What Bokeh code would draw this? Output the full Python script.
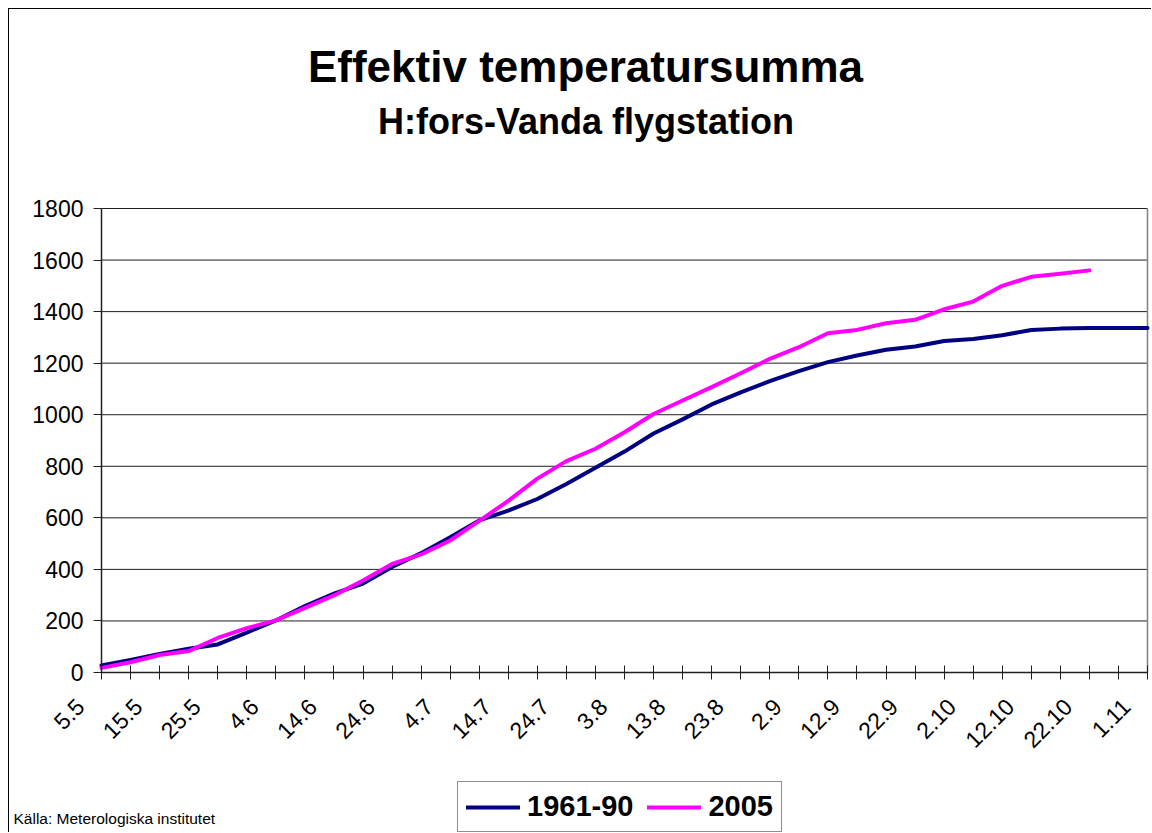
import math
from bokeh.plotting import figure
from bokeh.models import Range1d, FixedTicker, Legend, LegendItem, Label, LinearAxis
from bokeh.embed import file_html
from bokeh.resources import INLINE

# Category axis: every 5 days from 5.5 to 1.11
dates = ["5.5", "10.5", "15.5", "20.5", "25.5", "30.5",
         "4.6", "9.6", "14.6", "19.6", "24.6", "29.6",
         "4.7", "9.7", "14.7", "19.7", "24.7", "29.7",
         "3.8", "8.8", "13.8", "18.8", "23.8", "28.8",
         "2.9", "7.9", "12.9", "17.9", "22.9", "27.9",
         "2.10", "7.10", "12.10", "17.10", "22.10", "27.10", "1.11"]

# Effective temperature sum, long-term mean 1961-90
normal_1961_90 = [27, 49, 72, 92, 109, 155, 202, 258, 306, 345, 409, 463,
                  525, 590, 628, 673, 731, 794, 857, 927, 982, 1040, 1087,
                  1130, 1169, 1204, 1230, 1252, 1265, 1286, 1294, 1308,
                  1329, 1334, 1336, 1336, 1336]

# Effective temperature sum 2005 (ends 27.10)
year_2005 = [18, 40, 68, 83, 134, 172, 202, 251, 299, 357, 421, 458,
             512, 588, 666, 752, 820, 868, 932, 1003, 1055, 1107, 1161,
             1217, 1262, 1316, 1329, 1355, 1368, 1409, 1439, 1500,
             1535, 1547, 1560]

y_ticks = [0, 200, 400, 600, 800, 1000, 1200, 1400, 1600, 1800]

title_text = "Effektiv temperatursumma"
subtitle_text = "H:fors-Vanda flygstation"
source_text = "Källa: Meterologiska institutet"
series_names = ["1961-90", "2005"]

FONT = "Liberation Sans"

x_all = list(range(len(dates)))
x_2005 = x_all[:len(year_2005)]
n_last = x_all[-1]

# ---- geometry (canvas pixels) ----
W, H = 1143, 824
FL, FR = 92, 1138        # plot-area left/right (canvas x)
FT, FB = 199, 663        # plot-area top/bottom (canvas y)
kx = (FR - FL) / n_last
ky = (FB - FT) / (y_ticks[-1] - y_ticks[0])
x_start = 0 - FL / kx
x_end = n_last + (W - FR) / kx
y_end = y_ticks[-1] + FT / ky
y_start = y_ticks[0] - (H - FB) / ky

p = figure(width=W, height=H, output_backend="svg", toolbar_location=None,
           title=None, x_range=Range1d(x_start, x_end), y_range=Range1d(y_start, y_end),
           min_border=0)
p.styles = {"margin-left": "8px", "margin-top": "8px",
            "border-left": "1px solid #000000", "border-top": "1px solid #000000"}
p.background_fill_color = "white"
p.border_fill_color = "white"
p.outline_line_color = None
p.xgrid.visible = False
p.ygrid.visible = False

# horizontal gridlines across the plot area
p.segment(x0=[x_all[0]] * len(y_ticks), x1=[n_last] * len(y_ticks),
          y0=y_ticks, y1=y_ticks, line_color="#202020", line_width=1)
# right border of the plot area
p.segment(x0=[n_last], x1=[n_last], y0=[y_ticks[0]], y1=[y_ticks[-1]],
          line_color="#808080", line_width=1.5)

r1 = p.line(x_all, normal_1961_90, line_color="#000080", line_width=4,
            line_join="round", line_cap="round")
r2 = p.line(x_2005, year_2005, line_color="#FF00FF", line_width=4,
            line_join="round", line_cap="round")

# ---- x axis: line + ticks (no labels) ----
xa = p.xaxis[0]
xa.fixed_location = 0
xa.bounds = (x_all[0], n_last)
xa.ticker = FixedTicker(ticks=x_all)
xa.major_label_overrides = {i: "" for i in x_all}
xa.major_tick_in = 7
xa.major_tick_out = 7
xa.minor_tick_line_color = None
xa.axis_line_color = "#202020"
xa.axis_line_width = 1.5
xa.major_tick_line_color = "#202020"

# ---- x labels: every other category, rotated ----
shift = 0.74
lab_ticks = [i - shift for i in x_all if i % 2 == 0]
xl = LinearAxis(fixed_location=0, bounds=(x_all[0] - 1, n_last),
                ticker=FixedTicker(ticks=lab_ticks),
                major_label_overrides={i - shift: dates[i] for i in x_all if i % 2 == 0},
                major_label_orientation=math.pi / 4,
                axis_line_color=None, major_tick_line_color=None,
                minor_tick_line_color=None, major_tick_in=0, major_tick_out=0,
                major_label_standoff=30, major_label_text_font=FONT,
                major_label_text_font_size="23px", major_label_text_color="black")
p.add_layout(xl, "below")

# ---- y axis ----
ya = p.yaxis[0]
ya.fixed_location = 0
ya.bounds = (y_ticks[0], y_ticks[-1])
ya.ticker = FixedTicker(ticks=y_ticks)
ya.major_tick_in = 0
ya.major_tick_out = 8
ya.minor_tick_line_color = None
ya.axis_line_color = "#202020"
ya.axis_line_width = 1.5
ya.major_tick_line_color = "#202020"
ya.major_label_text_font = FONT
ya.major_label_text_font_size = "23px"
ya.major_label_text_color = "black"
ya.major_label_standoff = 10

# ---- texts (screen units from canvas bottom-left; page y = 833 - y) ----
p.add_layout(Label(x=576, y=767, x_units="screen", y_units="screen", text=title_text,
                   text_font=FONT, text_font_size="44px", text_font_style="bold",
                   text_align="center", text_baseline="middle", text_color="black"))
p.add_layout(Label(x=576.5, y=712, x_units="screen", y_units="screen", text=subtitle_text,
                   text_font=FONT, text_font_size="36px", text_font_style="bold",
                   text_align="center", text_baseline="middle", text_color="black"))
p.add_layout(Label(x=4, y=15, x_units="screen", y_units="screen", text=source_text,
                   text_font=FONT, text_font_size="15.5px",
                   text_align="left", text_baseline="middle", text_color="black"))

legend = Legend(items=[LegendItem(label=series_names[0], renderers=[r1]),
                       LegendItem(label=series_names[1], renderers=[r2])],
                location=(448, 1), orientation="horizontal",
                label_text_font=FONT, label_text_font_size="29px",
                label_text_font_style="bold", label_text_color="black",
                glyph_width=54, glyph_height=20, label_standoff=7, spacing=14,
                padding=8, margin=0, border_line_color="#202020", border_line_width=1,
                background_fill_color="white", background_fill_alpha=1.0)
p.add_layout(legend)

open("out.html", "w").write(file_html(p, INLINE))
